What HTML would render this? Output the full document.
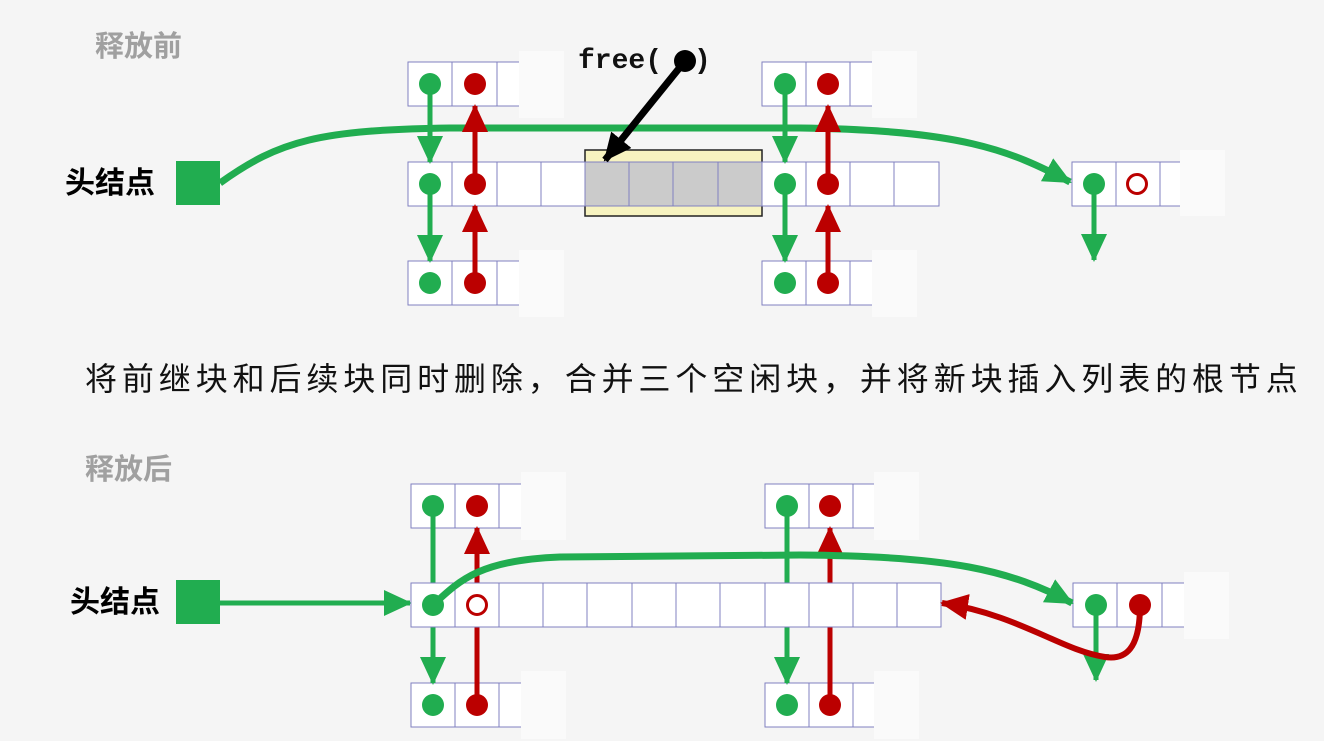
<!DOCTYPE html>
<html><head><meta charset="utf-8"><style>
body{margin:0;background:#f5f5f5;}
svg{display:block}
text{font-family:"Liberation Sans","Noto Sans CJK SC",sans-serif}
</style></head><body>
<svg width="1324" height="741" viewBox="0 0 1324 741" xmlns="http://www.w3.org/2000/svg">
<defs>
<marker id="g" markerWidth="28" markerHeight="26" refX="26" refY="13" orient="auto" markerUnits="userSpaceOnUse"><path d="M0,0 L28,13 L0,26 Z" fill="#21ad50"/></marker>
<marker id="r" markerWidth="28" markerHeight="26" refX="26" refY="13" orient="auto" markerUnits="userSpaceOnUse"><path d="M0,0 L28,13 L0,26 Z" fill="#bb0000"/></marker>
<marker id="k" markerWidth="28" markerHeight="26" refX="26" refY="13" orient="auto" markerUnits="userSpaceOnUse"><path d="M0,0 L28,13 L0,26 Z" fill="#000"/></marker>
</defs>
<g stroke="#8080c0" stroke-width="1" fill="#fff">
<rect x="408" y="62" width="44" height="44"/><rect x="452" y="62" width="45" height="44"/><rect x="497" y="62" width="44" height="44"/>
<rect x="762" y="62" width="44" height="44"/><rect x="806" y="62" width="44" height="44"/><rect x="850" y="62" width="44" height="44"/>
<rect x="408" y="261" width="44" height="44"/><rect x="452" y="261" width="45" height="44"/><rect x="497" y="261" width="44" height="44"/>
<rect x="762" y="261" width="44" height="44"/><rect x="806" y="261" width="44" height="44"/><rect x="850" y="261" width="44" height="44"/>
</g>
<rect x="585" y="150" width="177" height="66" fill="#f7f3c0" stroke="#222" stroke-width="1.5"/>
<g stroke="#8080c0" stroke-width="1" fill="#fff">
<rect x="408" y="162" width="44" height="44"/><rect x="452" y="162" width="45" height="44"/><rect x="497" y="162" width="44" height="44"/><rect x="541" y="162" width="44" height="44"/>
<rect x="585" y="162" width="44" height="44" fill="#cbcbcb"/><rect x="629" y="162" width="44" height="44" fill="#cbcbcb"/><rect x="673" y="162" width="45" height="44" fill="#cbcbcb"/><rect x="718" y="162" width="44" height="44" fill="#cbcbcb"/>
<rect x="762" y="162" width="44" height="44"/><rect x="806" y="162" width="44" height="44"/><rect x="850" y="162" width="44" height="44"/><rect x="894" y="162" width="45" height="44"/>
<rect x="1072" y="162" width="44" height="44"/><rect x="1116" y="162" width="44" height="44"/><rect x="1160" y="162" width="44" height="44"/>
</g>
<g fill="#fafafa">
<rect x="519" y="51" width="45" height="67"/><rect x="872" y="51" width="45" height="67"/>
<rect x="519" y="250" width="45" height="67"/><rect x="872" y="250" width="45" height="67"/>
<rect x="1180" y="150" width="45" height="66"/>
</g>
<text x="95" y="56" font-size="29" font-weight="bold" fill="#a0a0a0">释放前</text>
<text x="65" y="193" font-size="30" font-weight="bold" fill="#000">头结点</text>
<rect x="176" y="161" width="44" height="44" fill="#21ad50"/>
<path d="M220,183 C280,140 320,130 450,128 L800,128 C960,130 1010,150 1070,182" fill="none" stroke="#21ad50" stroke-width="7" marker-end="url(#g)"/>
<g stroke-width="5" fill="none">
<line x1="430" y1="84" x2="430" y2="162" stroke="#21ad50" marker-end="url(#g)"/>
<line x1="430" y1="184" x2="430" y2="261" stroke="#21ad50" marker-end="url(#g)"/>
<line x1="475" y1="184" x2="475" y2="106" stroke="#bb0000" marker-end="url(#r)"/>
<line x1="475" y1="283" x2="475" y2="206" stroke="#bb0000" marker-end="url(#r)"/>
<line x1="785" y1="84" x2="785" y2="162" stroke="#21ad50" marker-end="url(#g)"/>
<line x1="785" y1="184" x2="785" y2="261" stroke="#21ad50" marker-end="url(#g)"/>
<line x1="828" y1="184" x2="828" y2="106" stroke="#bb0000" marker-end="url(#r)"/>
<line x1="828" y1="283" x2="828" y2="206" stroke="#bb0000" marker-end="url(#r)"/>
<line x1="1094" y1="184" x2="1094" y2="260" stroke="#21ad50" marker-end="url(#g)"/>
</g>
<g fill="#21ad50"><circle cx="430" cy="84" r="11"/><circle cx="430" cy="184" r="11"/><circle cx="430" cy="283" r="11"/><circle cx="785" cy="84" r="11"/><circle cx="785" cy="184" r="11"/><circle cx="785" cy="283" r="11"/><circle cx="1094" cy="184" r="11"/></g>
<g fill="#bb0000"><circle cx="475" cy="84" r="11"/><circle cx="475" cy="184" r="11"/><circle cx="475" cy="283" r="11"/><circle cx="828" cy="84" r="11"/><circle cx="828" cy="184" r="11"/><circle cx="828" cy="283" r="11"/></g>
<circle cx="1137" cy="184" r="9.5" fill="#fff" stroke="#bb0000" stroke-width="3"/>
<text x="578" y="68" font-size="28" font-weight="bold" fill="#111" style="font-family:'Liberation Mono',monospace">free(</text>
<text x="694" y="68" font-size="28" font-weight="bold" fill="#111" style="font-family:'Liberation Mono',monospace">)</text>
<line x1="685" y1="61" x2="605" y2="160" stroke="#000" stroke-width="7" marker-end="url(#k)"/>
<circle cx="685" cy="61" r="11" fill="#000"/>
<text x="85" y="390" font-size="32" fill="#111" letter-spacing="4.9">将前继块和后续块同时删除，合并三个空闲块，并将新块插入列表的根节点</text>

<text x="85" y="479" font-size="29" font-weight="bold" fill="#a0a0a0">释放后</text>
<text x="70" y="612" font-size="30" font-weight="bold" fill="#000">头结点</text>
<rect x="176" y="580" width="44" height="44" fill="#21ad50"/>
<line x1="220" y1="603" x2="410" y2="603" stroke="#21ad50" stroke-width="5" marker-end="url(#g)"/>
<g stroke="#8080c0" stroke-width="1" fill="#fff">
<rect x="411" y="484" width="44" height="44"/><rect x="455" y="484" width="44" height="44"/><rect x="499" y="484" width="44" height="44"/>
<rect x="765" y="484" width="44" height="44"/><rect x="809" y="484" width="44" height="44"/><rect x="853" y="484" width="44" height="44"/>
<rect x="411" y="683" width="44" height="44"/><rect x="455" y="683" width="44" height="44"/><rect x="499" y="683" width="44" height="44"/>
<rect x="765" y="683" width="44" height="44"/><rect x="809" y="683" width="44" height="44"/><rect x="853" y="683" width="44" height="44"/>
<rect x="1073" y="583" width="44" height="44"/><rect x="1117" y="583" width="45" height="44"/><rect x="1162" y="583" width="44" height="44"/>
</g>
<g stroke-width="5" fill="none">
<line x1="433" y1="506" x2="433" y2="683" stroke="#21ad50" marker-end="url(#g)"/>
<line x1="787" y1="506" x2="787" y2="683" stroke="#21ad50" marker-end="url(#g)"/>
<line x1="477" y1="705" x2="477" y2="528" stroke="#bb0000" marker-end="url(#r)"/>
<line x1="830" y1="705" x2="830" y2="528" stroke="#bb0000" marker-end="url(#r)"/>
</g>
<g stroke="#8080c0" stroke-width="1" fill="#fff">
<rect x="411" y="583" width="44" height="44"/><rect x="455" y="583" width="44" height="44"/><rect x="499" y="583" width="44" height="44"/><rect x="543" y="583" width="44" height="44"/><rect x="587" y="583" width="45" height="44"/><rect x="632" y="583" width="44" height="44"/><rect x="676" y="583" width="44" height="44"/><rect x="720" y="583" width="45" height="44"/><rect x="765" y="583" width="44" height="44"/><rect x="809" y="583" width="44" height="44"/><rect x="853" y="583" width="44" height="44"/><rect x="897" y="583" width="44" height="44"/>
</g>
<g fill="#fafafa">
<rect x="521" y="472" width="45" height="68"/><rect x="874" y="472" width="45" height="68"/>
<rect x="521" y="671" width="45" height="68"/><rect x="874" y="671" width="45" height="68"/>
<rect x="1184" y="572" width="45" height="67"/>
</g>
<path d="M433,605 C460,580 480,560 560,557 L800,555 C950,556 1010,570 1072,603" fill="none" stroke="#21ad50" stroke-width="7" marker-end="url(#g)"/>
<line x1="1096" y1="605" x2="1096" y2="680" stroke="#21ad50" stroke-width="5" marker-end="url(#g)"/>
<path d="M1140,605 C1140,650 1125,660 1105,657 C1060,650 1020,615 942,603" fill="none" stroke="#bb0000" stroke-width="6" marker-end="url(#r)"/>
<g fill="#21ad50"><circle cx="433" cy="506" r="11"/><circle cx="433" cy="605" r="11"/><circle cx="433" cy="705" r="11"/><circle cx="787" cy="506" r="11"/><circle cx="787" cy="705" r="11"/><circle cx="1096" cy="605" r="11"/></g>
<g fill="#bb0000"><circle cx="477" cy="506" r="11"/><circle cx="477" cy="705" r="11"/><circle cx="830" cy="506" r="11"/><circle cx="830" cy="705" r="11"/><circle cx="1140" cy="605" r="11"/></g>
<circle cx="477" cy="605" r="9.5" fill="#fff" stroke="#bb0000" stroke-width="3"/>
</svg>
</body></html>
